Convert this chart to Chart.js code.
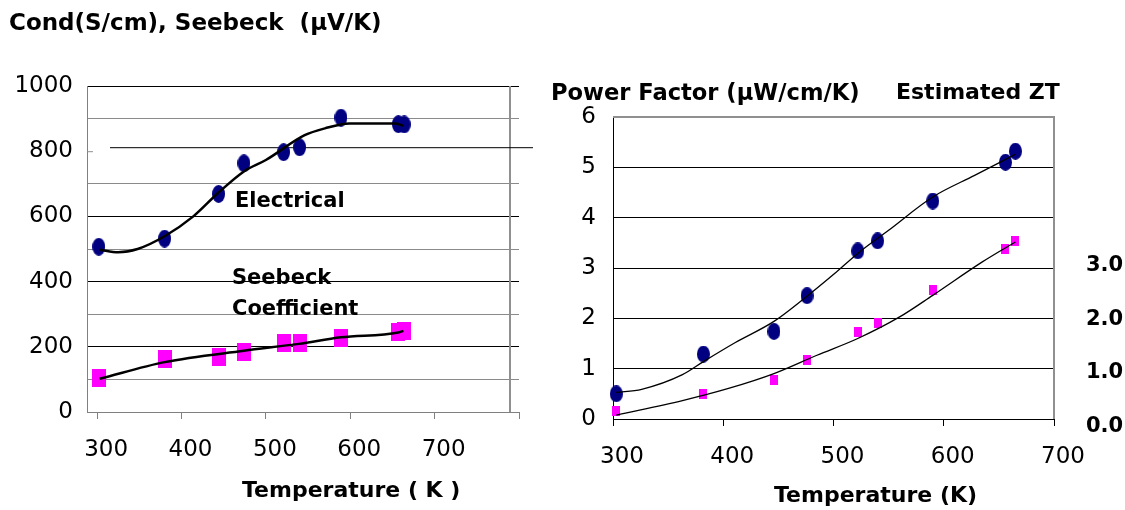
<!DOCTYPE html>
<html>
<head>
<meta charset="utf-8">
<script src="https://cdn.jsdelivr.net/npm/chart.js@4.4.1/dist/chart.umd.min.js"></script>
<style>
  html, body { margin: 0; padding: 0; background: #fff; }
  body { width: 1125px; height: 510px; position: relative; overflow: hidden; font-family: "DejaVu Sans", sans-serif; }
  .box { position: absolute; top: 0; }
  .lbl { position: absolute; font-weight: bold; font-size: 22px; line-height: 22px; white-space: pre; color: #000; }
</style>
</head>
<body>
<div class="box" style="left:0"><canvas id="condChart" width="540" height="510"></canvas></div>
<div class="box" style="left:540px"><canvas id="pfChart" width="585" height="510"></canvas></div>

<div class="lbl" style="left:9px;top:11px;font-size:23px">Cond(S/cm), Seebeck  (µV/K)</div>
<div class="lbl" style="left:242px;top:479px">Temperature ( K )</div>
<div class="lbl" style="left:235px;top:189px;font-size:21px">Electrical</div>
<div class="lbl" style="left:232px;top:266px;font-size:21px">Seebeck</div>
<div class="lbl" style="left:232px;top:297px;font-size:21px">Coefficient</div>

<div class="lbl" style="left:551px;top:81px;font-size:22.6px">Power Factor (µW/cm/K)</div>
<div class="lbl" style="left:896px;top:81px">Estimated ZT</div>
<div class="lbl" style="left:774px;top:484px">Temperature (K)</div>

<script>
// ---------- data: left chart (conductivity + Seebeck) ----------
const tempLeft = [302, 380, 444, 474, 521, 540, 589, 657, 664];
const condValues = [507, 532, 669, 763, 797, 812, 903, 883, 882];
const seebeckValues = [105, 163, 168, 183, 212, 212, 226, 244, 250];

const condFitT = [303, 325, 348, 380, 414, 443, 474, 500, 546, 570, 599, 653, 663];
const condFitV = [498, 490, 500, 539, 600, 671, 738, 773, 849, 870, 885, 885, 878];
const seebeckFitT = [303, 380, 474, 539, 589, 657, 663];
const seebeckFitV = [102, 153, 188, 209, 229, 244, 249];

const xTicksLeft = [300, 400, 500, 600, 700, 800];
const yTicksLeft = [0, 100, 200, 300, 400, 500, 600, 700, 800, 900, 1000];

// ---------- data: right chart (power factor + ZT) ----------
const tempRight = [303, 382, 446, 476, 522, 540, 590, 656, 665];
const pfValues = [0.50, 1.29, 1.74, 2.45, 3.34, 3.54, 4.33, 5.10, 5.32];
const ztValues = [0.29, 0.62, 0.88, 1.24, 1.76, 1.93, 2.54, 3.30, 3.44];

const pfFitT = [303, 326, 363, 382, 411, 446, 472, 501, 522, 550, 590, 628, 665];
const pfFitV = [0.53, 0.59, 0.88, 1.14, 1.52, 1.94, 2.37, 2.89, 3.29, 3.75, 4.41, 4.84, 5.26];
const ztFitT = [303, 363, 404, 446, 485, 522, 560, 590, 635, 665];
const ztFitV = [0.22, 0.49, 0.71, 0.99, 1.33, 1.64, 2.04, 2.44, 3.06, 3.43];

const xTicksRight = [300, 400, 500, 600, 700];
const yTicksRight = [0, 1, 2, 3, 4, 5, 6];
const ztTicks = [0, 1, 2, 3];

// ---------- helpers ----------
const NAVY = "#000080";
const MAGENTA = "#ff00ff";
const tickFont = { family: "DejaVu Sans", size: 23 };

function pts(xs, ys) {
  return xs.map((x, i) => ({ x: x, y: ys[i] }));
}

function makeMarker(w, h, color, shape) {
  const c = document.createElement("canvas");
  c.width = w;
  c.height = h;
  const g = c.getContext("2d");
  g.fillStyle = color;
  if (shape === "ellipse") {
    g.beginPath();
    g.ellipse(w / 2, h / 2, w / 2, h / 2, 0, 0, Math.PI * 2);
    g.fill();
  } else {
    g.fillRect(0, 0, w, h);
  }
  return c;
}

const bigDot = makeMarker(13, 18, NAVY, "ellipse");
const bigSquare = makeMarker(14, 18, MAGENTA, "rect");
const dot = makeMarker(13, 17, NAVY, "ellipse");
const smallSquare = makeMarker(8, 10, MAGENTA, "rect");

function fitLine(data, width) {
  return {
    data: data,
    showLine: true,
    borderColor: "#000",
    borderWidth: width,
    pointRadius: 0,
    cubicInterpolationMode: "monotone",
    clip: false
  };
}

function markers(data, style) {
  return {
    data: data,
    showLine: false,
    pointStyle: style,
    pointRadius: 8,
    clip: false
  };
}

// ---------- LEFT CHART ----------
const leftExtras = {
  id: "leftExtras",
  beforeDatasetsDraw(chart) {
    const { ctx, chartArea, scales } = chart;
    const y800 = scales.y.getPixelForValue(800);
    ctx.save();
    // gray plot border on the right
    ctx.strokeStyle = "#909090";
    ctx.lineWidth = 2;
    ctx.beginPath();
    ctx.moveTo(chartArea.right - 9, chartArea.top);
    ctx.lineTo(chartArea.right - 9, chartArea.bottom);
    ctx.stroke();
    // little dash left over at 800
    ctx.lineWidth = 1;
    ctx.beginPath();
    ctx.moveTo(chartArea.left, y800 + 0.5);
    ctx.lineTo(chartArea.left + 6, y800 + 0.5);
    ctx.stroke();
    // shifted 800 gridline
    ctx.strokeStyle = "#000";
    ctx.beginPath();
    ctx.moveTo(chartArea.left + 23, y800 - 3.5);
    ctx.lineTo(chartArea.right + 14, y800 - 3.5);
    ctx.stroke();
    ctx.restore();
  }
};

new Chart(document.getElementById("condChart"), {
  type: "scatter",
  data: {
    datasets: [
      fitLine(pts(condFitT, condFitV), 2.5),
      fitLine(pts(seebeckFitT, seebeckFitV), 2.5),
      markers(pts(tempLeft, condValues), bigDot),
      markers(pts(tempLeft, seebeckValues), bigSquare)
    ]
  },
  options: {
    responsive: false,
    animation: false,
    layout: { padding: { top: 86, right: 21, left: 0, bottom: 0 } },
    plugins: { legend: { display: false }, tooltip: { enabled: false } },
    scales: {
      x: {
        type: "linear",
        min: 288,
        max: 800,
        afterBuildTicks: (s) => { s.ticks = xTicksLeft.map((v) => ({ value: v })); },
        afterFit: (s) => { s.height = 98; },
        grid: { drawOnChartArea: false, drawTicks: true, tickLength: 7, color: "#808080" },
        border: { color: "#808080" },
        ticks: {
          font: tickFont, color: "#000", padding: 17, labelOffset: 9, maxRotation: 0,
          callback: (v) => (v === 800 ? "" : String(v))
        }
      },
      y: {
        min: 0,
        max: 1000,
        afterBuildTicks: (s) => { s.ticks = yTicksLeft.map((v) => ({ value: v })); },
        afterFit: (s) => { s.width = 87; },
        grid: {
          drawTicks: false,
          color: (c) => {
            const v = c.tick.value;
            if (v === 800) return "rgba(0,0,0,0)";
            if (v === 0) return "#808080";
            return v % 200 === 0 ? "#000" : "#8a8a8a";
          }
        },
        border: { color: "#808080" },
        ticks: {
          font: tickFont, color: "#000", padding: 14,
          callback: (v) => (v % 200 === 0 ? String(v) : "")
        }
      }
    }
  },
  plugins: [leftExtras]
});

// ---------- RIGHT CHART ----------
const rightFrame = {
  id: "rightFrame",
  beforeDatasetsDraw(chart) {
    const { ctx, chartArea } = chart;
    ctx.save();
    ctx.strokeStyle = "#909090";
    ctx.lineWidth = 2;
    ctx.beginPath();
    ctx.moveTo(chartArea.left, chartArea.top);
    ctx.lineTo(chartArea.right, chartArea.top);
    ctx.lineTo(chartArea.right, chartArea.bottom);
    ctx.stroke();
    ctx.restore();
  }
};

new Chart(document.getElementById("pfChart"), {
  type: "scatter",
  data: {
    datasets: [
      fitLine(pts(pfFitT, pfFitV), 1.3),
      Object.assign(fitLine(pts(ztFitT, ztFitV), 1.3), { yAxisID: "y1" }),
      markers(pts(tempRight, pfValues), dot),
      Object.assign(markers(pts(tempRight, ztValues), smallSquare), { yAxisID: "y1" })
    ]
  },
  options: {
    responsive: false,
    animation: false,
    layout: { padding: { top: 117, right: 0, left: 0, bottom: 0 } },
    plugins: { legend: { display: false }, tooltip: { enabled: false } },
    scales: {
      x: {
        type: "linear",
        min: 300,
        max: 700,
        afterBuildTicks: (s) => { s.ticks = xTicksRight.map((v) => ({ value: v })); },
        afterFit: (s) => { s.height = 91; },
        grid: { drawOnChartArea: false, drawTicks: true, tickLength: 7, color: "#000" },
        border: { color: "#000" },
        ticks: { font: tickFont, color: "#000", padding: 17, labelOffset: 9, maxRotation: 0 }
      },
      y: {
        min: 0,
        max: 6,
        afterBuildTicks: (s) => { s.ticks = yTicksRight.map((v) => ({ value: v })); },
        afterFit: (s) => { s.width = 73; },
        grid: { drawTicks: false, color: (c) => (c.tick.value === 6 ? "rgba(0,0,0,0)" : "#000") },
        border: { color: "#000" },
        ticks: { font: tickFont, color: "#000", padding: 17 }
      },
      y1: {
        position: "right",
        min: 0.148,
        max: 5.746,
        afterBuildTicks: (s) => { s.ticks = ztTicks.map((v) => ({ value: v })); },
        afterFit: (s) => { s.width = 71; },
        grid: { display: false, drawTicks: false },
        border: { display: false },
        ticks: {
          font: { family: "DejaVu Sans", size: 21, weight: "bold" }, color: "#000", padding: 32,
          callback: (v) => v.toFixed(1)
        }
      }
    }
  },
  plugins: [rightFrame]
});
</script>
</body>
</html>
